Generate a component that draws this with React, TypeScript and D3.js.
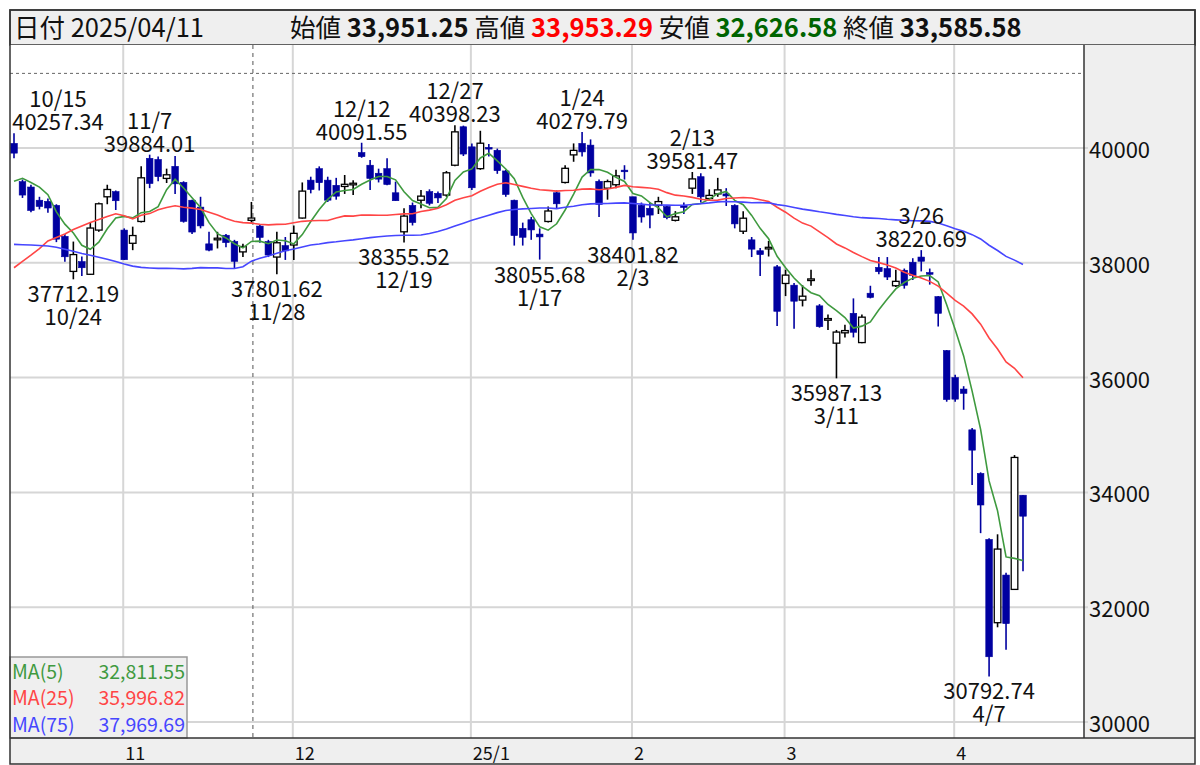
import React from "react";
import * as d3 from "d3";

// ---- data ----
const dates = [
  "2024-10-15","2024-10-16","2024-10-17","2024-10-18","2024-10-21","2024-10-22","2024-10-23","2024-10-24","2024-10-25","2024-10-28","2024-10-29","2024-10-30","2024-10-31",
  "2024-11-01","2024-11-05","2024-11-06","2024-11-07","2024-11-08","2024-11-11","2024-11-12","2024-11-13","2024-11-14","2024-11-15","2024-11-18","2024-11-19","2024-11-20","2024-11-21","2024-11-22","2024-11-25","2024-11-26","2024-11-27","2024-11-28","2024-11-29",
  "2024-12-02","2024-12-03","2024-12-04","2024-12-05","2024-12-06","2024-12-09","2024-12-10","2024-12-11","2024-12-12","2024-12-13","2024-12-16","2024-12-17","2024-12-18","2024-12-19","2024-12-20","2024-12-23","2024-12-24","2024-12-25","2024-12-26","2024-12-27","2024-12-30",
  "2025-01-06","2025-01-07","2025-01-08","2025-01-09","2025-01-10","2025-01-14","2025-01-15","2025-01-16","2025-01-17","2025-01-20","2025-01-21","2025-01-22","2025-01-23","2025-01-24","2025-01-27","2025-01-28","2025-01-29","2025-01-30","2025-01-31",
  "2025-02-03","2025-02-04","2025-02-05","2025-02-06","2025-02-07","2025-02-10","2025-02-12","2025-02-13","2025-02-14","2025-02-17","2025-02-18","2025-02-19","2025-02-20","2025-02-21","2025-02-25","2025-02-26","2025-02-27","2025-02-28",
  "2025-03-03","2025-03-04","2025-03-05","2025-03-06","2025-03-07","2025-03-10","2025-03-11","2025-03-12","2025-03-13","2025-03-14","2025-03-17","2025-03-18","2025-03-19","2025-03-21","2025-03-24","2025-03-25","2025-03-26","2025-03-27","2025-03-28","2025-03-31",
  "2025-04-01","2025-04-02","2025-04-03","2025-04-04","2025-04-07","2025-04-08","2025-04-09","2025-04-10","2025-04-11",
];

const opens = [
  40080,39413,39320,39090,39070,39000,38460,37850,38020,37800,38570,39150,39240,
  38570,38340,38720,39820,39800,39470,39680,39400,39090,38970,38330,38400,38480,38370,38190,38740,38640,38370,38100,38300,
  38310,38780,39440,39640,39440,39350,39330,39360,39920,39700,39560,39640,39220,38540,39000,39090,39240,39210,39180,39700,40370,
  40020,39640,40010,39960,39600,39090,38600,38750,38500,38720,39220,39400,39880,40080,40050,39420,39300,39360,39600,
  39150,39000,38950,39000,38980,38740,39000,39300,39500,39120,39200,39200,39000,38550,38400,38210,38230,37930,
  37640,37610,37350,37700,37250,37000,36600,36780,37120,36610,37470,37920,37900,37600,37870,38010,38100,37830,37410,36470,
  36000,35800,35090,34330,33180,31730,32560,32310,33951.25,
];

const highs = [
  40257.34,39450,39360,39150,39120,39020,38500,38370,38110,38700,39050,39360,39260,
  38600,38630,39680,39884.01,39850,39640,39860,39420,39100,39150,38540,38540,38500,38400,38330,39060,38660,38400,38540,38450,
  38650,39400,39500,39680,39500,39480,39530,39440,40091.55,39790,39640,39820,39414,38950,39050,39270,39280,39240,39600,40398.23,40390,
  40080,40300,40070,39990,39620,39100,38700,38800,38600,38980,39260,39700,40080,40279.79,40150,39450,39450,39620,39700,
  39150,39050,39050,39150,39000,38900,39050,39581.47,39560,39280,39480,39300,39020,38900,38450,38260,38380,37960,
  37880,37650,37610,37880,37280,37100,36830,36920,37380,37100,37600,38100,38100,37880,37900,38080,38220.69,37900,37420,36480,
  36050,35850,35120,34350,33200,33270,32600,34650,33953.29,
];

const lows = [
  39820,39130,38880,38930,38870,38360,38020,37712.19,37770,37790,38540,39020,38920,
  38050,38220,38700,39300,39420,39390,39200,38700,38500,38600,38200,38250,38270,37900,38100,38700,38350,38100,37801.62,38050,
  38050,38770,39210,39260,39060,39100,39200,39180,39830,39270,39400,39350,39080,38355.52,38650,38950,39000,39040,39150,39680,39860,
  39270,39620,39850,39550,39150,38300,38300,38400,38055.68,38700,38950,39380,39760,39850,39500,38800,39100,39300,39450,
  38401.82,38700,38600,38850,38760,38720,38850,39200,39050,39080,39150,38990,38600,38500,38100,37770,38110,36900,
  37420,36850,37240,37600,36870,36830,35987.13,36700,36700,36600,37380,37800,37700,37580,37550,37700,37850,37620,36890,35580,
  35580,35440,34130,33290,30792.74,31650,31260,32300,32626.58,
];

const closes = [
  39910.55,39180.30,38911.19,38981.75,38954.60,38411.96,38104.86,38143.29,37913.92,38605.53,39027.98,39277.39,39081.25,
  38053.67,38474.90,39480.67,39381.41,39500.37,39533.32,39376.09,38721.66,38535.70,38642.91,38220.85,38414.43,38352.34,38026.17,38283.85,38780.14,38442.00,38134.97,38349.06,38208.03,
  38513.02,39248.86,39276.39,39395.60,39091.17,39160.50,39367.58,39372.23,39849.14,39470.44,39457.49,39364.68,39081.71,38813.58,38701.90,39161.34,39036.85,39130.43,39568.06,40281.16,39894.54,
  39307.05,40083.30,39981.06,39605.09,39190.40,38474.30,38444.58,38572.60,38451.46,38902.50,39027.98,39646.25,39958.87,39931.98,39565.80,39016.87,39414.78,39513.97,39572.49,
  38520.09,38798.37,38831.48,39066.53,38787.02,38801.17,38963.70,39461.47,39149.43,39174.25,39270.40,39164.61,38678.04,38776.94,38237.79,38142.37,38256.17,37155.50,
  37785.47,37331.18,37418.24,37704.93,36887.17,37028.27,36793.11,36819.09,36790.03,37053.10,37396.52,37845.42,37751.88,37677.06,37608.49,37780.54,38027.29,37799.97,37120.33,35617.56,
  35624.48,35725.87,34735.93,33780.58,31136.58,33012.58,31714.03,34609.00,33585.58,
];

// closes of the 74 sessions before the first visible one (used only for the moving averages)
const priorCloses = [
  39667.07,39341.54,39583.08,
  39631.06,40074.69,40580.76,40913.65,40912.37,40780.70,41580.17,41831.99,42224.02,41190.68,41275.08,41097.69,40126.35,40063.79,39599.00,39594.39,39154.85,37869.51,37667.41,38468.63,38525.95,39101.82,
  38126.33,35909.70,31458.42,34675.46,35089.62,34831.15,35025.00,36232.51,36442.43,36726.64,38062.67,37388.62,38062.92,37951.80,38211.01,38364.27,38110.22,38288.62,38371.76,38362.53,38647.75,
  38700.87,38686.31,37047.61,36657.09,36391.47,36215.75,36159.16,35619.77,36833.27,36581.76,36203.22,36380.17,37155.33,37723.91,37940.59,37870.26,38925.63,39829.56,37919.55,
  38651.97,37808.76,38552.06,38635.62,39332.74,38937.54,39277.96,39380.89,39605.80,
];

const maPeriods = [5, 25, 75];
const maColors = ["#3f9a3f", "#ff4545", "#4646ff"];
const maLegendValues = ["32,811.55", "35,996.82", "37,969.69"];
const yTicks = [30000, 32000, 34000, 36000, 38000, 40000];
const monthLabels = ["11", "12", "25/1", "2", "3", "4"];
const highMarks = ["2024-10-15", "2024-11-07", "2024-12-12", "2024-12-27", "2025-01-24", "2025-02-13", "2025-03-26"];
const lowMarks = ["2024-10-24", "2024-11-28", "2024-12-19", "2025-01-17", "2025-02-03", "2025-03-11", "2025-04-07"];
const markerDate = "2024-11-25";
const markerLevel = 41300;
const headerDate = "2025/04/11";
const headerLabels = ["始値", "高値", "安値", "終値"];
const headerValues = ["33,951.25", "33,953.29", "32,626.58", "33,585.58"];
const headerColors = ["#111", "#ff0000", "#006400", "#111"];

// ---- layout ----
const W = 1200, H = 765;
const L = 10, R = 1084, T = 45, B = 738, FR = 1195, HT = 10, BB = 764;
const FONT = "'Noto Sans CJK JP', 'Noto Sans', sans-serif";
const BEAR = "#0000a0";

export default function App() {
  const x = d3.scaleLinear().domain([0, dates.length - 1]).range([14, 1023]);
  const y = d3.scaleLinear().domain([30000, 40000]).range([722, 148]);

  const all = priorCloses.concat(closes);
  const maSeries = maPeriods.map((p) =>
    closes.map((_, i) => {
      const idx = i + priorCloses.length;
      return d3.mean(all.slice(idx - p + 1, idx + 1)) as number;
    })
  );
  const line = d3.line<number>().x((_, i) => x(i)).y((v) => y(v));

  const monthStarts: number[] = [];
  dates.forEach((d, i) => {
    if (i > 0 && d.slice(5, 7) !== dates[i - 1].slice(5, 7)) monthStarts.push(i);
  });

  const md = (d: string) => `${+d.slice(5, 7)}/${+d.slice(8, 10)}`;
  const bw = 6.6;

  return (
    <svg width={W} height={H} style={{ position: "absolute", left: 0, top: 0, background: "#fff" }} fontFamily={FONT}>
      <defs>
        <clipPath id="plot">
          <rect x={L} y={T} width={R - L} height={B - T} />
        </clipPath>
      </defs>
      {/* header */}
      <rect x={L} y={HT} width={FR - L} height={T - HT} fill="#efefef" stroke="#333" strokeWidth={1.5} />
      <text x={14} y={37} fontSize={25.5} fill="#111">日付 {headerDate}</text>
      <text x={290} y={37} fontSize={25.5} fill="#111">
        {headerLabels.map((lab, k) => (
          <React.Fragment key={k}>
            <tspan>{(k > 0 ? " " : "") + lab + " "}</tspan>
            <tspan fontWeight="bold" fill={headerColors[k]}>{headerValues[k]}</tspan>
          </React.Fragment>
        ))}
      </text>

      {/* plot area */}
      <rect x={L} y={T} width={R - L} height={B - T} fill="#fff" />
      <rect x={R} y={T} width={FR - R} height={B - T} fill="#efefef" />
      <rect x={L} y={B} width={FR - L} height={BB - B} fill="#efefef" />

      {yTicks.map((t) => (
        <line key={t} x1={L} x2={R + 4} y1={y(t)} y2={y(t)} stroke="#d6d6d6" strokeWidth={2} />
      ))}
      {monthStarts.map((i) => (
        <line key={i} x1={x(i) - 1} x2={x(i) - 1} y1={T} y2={B} stroke="#d6d6d6" strokeWidth={2} />
      ))}
      <line x1={L} x2={R} y1={y(markerLevel)} y2={y(markerLevel)} stroke="#666" strokeWidth={1} strokeDasharray="3,3" />
      <line
        x1={x(dates.indexOf(markerDate)) + 1.5}
        x2={x(dates.indexOf(markerDate)) + 1.5}
        y1={T}
        y2={B}
        stroke="#555"
        strokeWidth={1}
        strokeDasharray="4,4"
      />

      <g clipPath="url(#plot)">
        {dates.map((d, i) => {
          const o = opens[i], c = closes[i];
          const bull = c >= o;
          const col = bull ? "#000" : BEAR;
          const top = y(Math.max(o, c));
          const h = Math.max(1.6, Math.abs(y(o) - y(c)));
          return (
            <g key={d}>
              <line x1={x(i)} x2={x(i)} y1={y(highs[i])} y2={y(lows[i])} stroke={col} strokeWidth={1.6} />
              <rect
                x={x(i) - bw / 2}
                y={top - (h > 1.6 ? 0 : 0.8)}
                width={bw}
                height={h}
                fill={bull ? "#fff" : BEAR}
                stroke={col}
                strokeWidth={bull ? 1.3 : 0.6}
              />
            </g>
          );
        })}
        {maSeries.map((s, k) => (
          <path key={k} d={line(s) || ""} fill="none" stroke={maColors[k]} strokeWidth={1.6} />
        ))}
      </g>

      {/* annotations */}
      {highMarks.map((d) => {
        const i = dates.indexOf(d);
        const yy = y(highs[i]);
        const cx = Math.max(x(i), 58);
        return (
          <g key={d} fontSize={22} fill="#111" textAnchor="middle">
            <text x={cx} y={yy - 36} dominantBaseline="central">{md(d)}</text>
            <text x={cx} y={yy - 13} dominantBaseline="central">{highs[i].toFixed(2)}</text>
          </g>
        );
      })}
      {lowMarks.map((d) => {
        const i = dates.indexOf(d);
        const yy = y(lows[i]);
        return (
          <g key={d} fontSize={22} fill="#111" textAnchor="middle">
            <text x={x(i)} y={yy + 13} dominantBaseline="central">{lows[i].toFixed(2)}</text>
            <text x={x(i)} y={yy + 36} dominantBaseline="central">{md(d)}</text>
          </g>
        );
      })}

      {/* y axis */}
      {yTicks.map((t) => (
        <text key={t} x={1089} y={y(t)} fontSize={22} fill="#111" dominantBaseline="central">{t}</text>
      ))}
      {/* x axis */}
      {monthStarts.map((i, k) => (
        <text key={i} x={x(i) + 1} y={752} fontSize={18} fill="#111" dominantBaseline="central">{monthLabels[k]}</text>
      ))}

      {/* legend */}
      <rect x={L} y={657} width={177} height={B - 657} fill="#efefef" stroke="#999" strokeWidth={1.5} />
      {maPeriods.map((p, k) => (
        <g key={p} fontSize={19.5} fill={maColors[k]}>
          <text x={12} y={670 + k * 26.5} dominantBaseline="central">MA({p})</text>
          <text x={185} y={670 + k * 26.5} textAnchor="end" dominantBaseline="central">{maLegendValues[k]}</text>
        </g>
      ))}

      {/* frame */}
      <line x1={R} x2={R} y1={T} y2={B} stroke="#333" strokeWidth={1.5} />
      <line x1={L} x2={FR} y1={B} y2={B} stroke="#333" strokeWidth={1.5} />
      <rect x={L} y={HT} width={FR - L} height={BB - HT} fill="none" stroke="#333" strokeWidth={1.5} />
    </svg>
  );
}
